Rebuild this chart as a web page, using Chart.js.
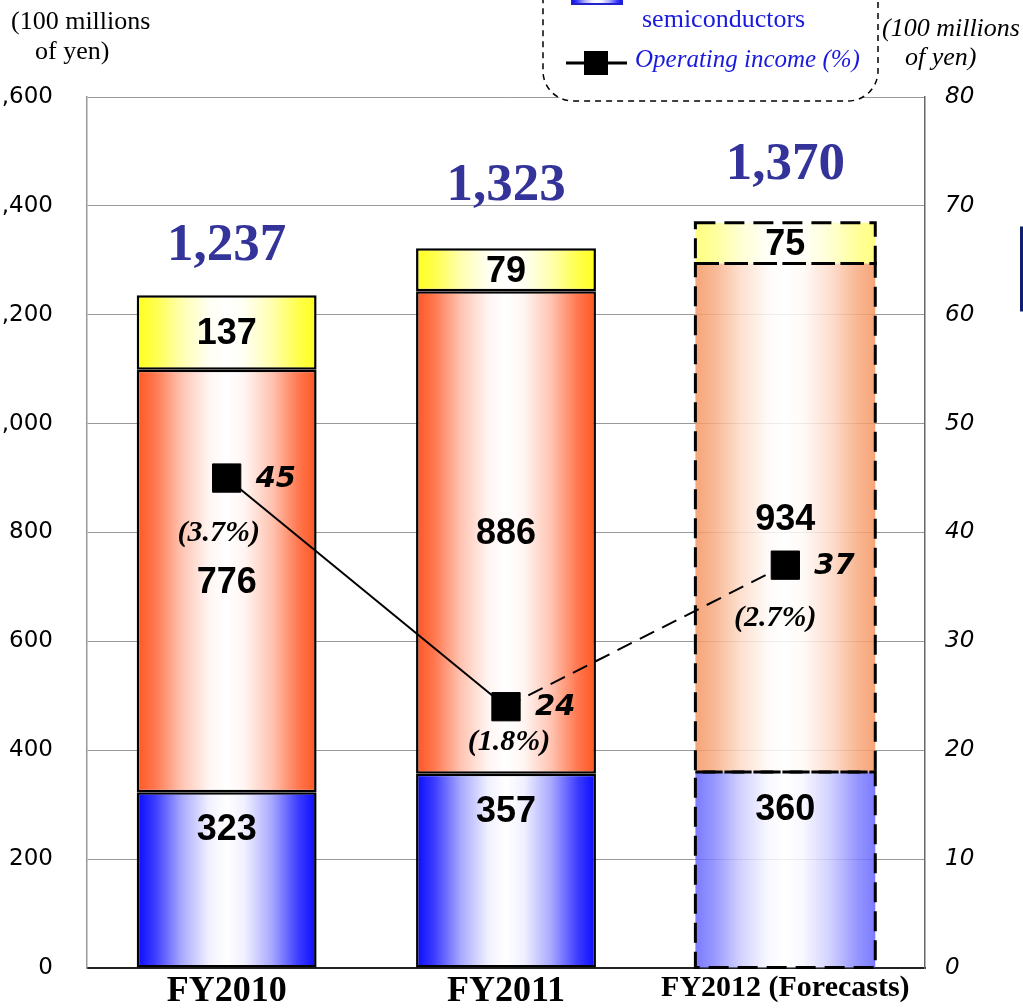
<!DOCTYPE html>
<html>
<head>
<meta charset="utf-8">
<script src="https://cdn.jsdelivr.net/npm/chart.js@4.4.1/dist/chart.umd.min.js"></script>
<style>
  html, body { margin: 0; padding: 0; background: #fff; overflow: hidden; width: 1023px; height: 1008px; }
  /* the canvas is shifted so the outer labels run off the page edge */
  #wrap { position: absolute; left: -40px; top: -60px; }
</style>
</head>
<body>
<div id="wrap"><canvas id="salesChart" width="1063" height="1068"></canvas></div>
<script>
// sales (100 millions of yen)
const fiscalYears = ['FY2010', 'FY2011', 'FY2012 (Forecasts)'];
const semiconductorSales = [323, 357, 360];
const middleSales = [776, 886, 934];
const topSales = [137, 79, 75];
const totalSales = [1237, 1323, 1370];
// operating income (100 millions of yen) and margin (%)
const operatingIncome = [45, 24, 37];
const operatingMargin = [3.7, 1.8, 2.7];
const salesTicks = [0, 200, 400, 600, 800, 1000, 1200, 1400, 1600];
const incomeTicks = [0, 10, 20, 30, 40, 50, 60, 70, 80];

const FORECAST = 2;
const BAR_PCT = 0.644;
const OFFSET_X = 40, OFFSET_Y = 60;   // canvas shift, see #wrap

// label placement
const totalLift = [35, 48, 43];
const marginShift = [[-8, 55], [3, 36], [-10, 53]];

const stops = [[0, 1], [0.1, 0.8], [0.25, 0.35], [0.4, 0.06], [0.5, 0], [0.6, 0.06], [0.75, 0.35], [0.9, 0.8], [1, 1]];

function tint(rgb, f, a) {
    const c = rgb.map(v => Math.round(255 - (255 - v) * f));
    return `rgba(${c.join(',')},${a})`;
}

function barFill(edge, forecastEdge) {
    return ctx => {
        const chart = ctx.chart;
        const xs = chart.scales.x;
        if (!xs || !chart.chartArea || ctx.dataIndex === undefined) return tint(edge, 0.5, 1);
        const forecast = ctx.dataIndex === FORECAST;
        const half = xs.width / fiscalYears.length * BAR_PCT / 2;
        const cx = xs.getPixelForValue(ctx.dataIndex);
        if (!isFinite(cx) || !isFinite(half) || half <= 0) return tint(edge, 0.5, 1);
        const g = chart.ctx.createLinearGradient(cx - half, 0, cx + half, 0);
        stops.forEach(([o, f]) => {
            g.addColorStop(o, tint(forecast ? forecastEdge : edge, f, forecast ? 0.85 : 1));
        });
        return g;
    };
}

function barDataset(label, data, edge, forecastEdge) {
    return {
        label: label,
        data: data,
        yAxisID: 'y',
        order: 1,
        backgroundColor: barFill(edge, forecastEdge),
        borderColor: '#000',
        borderWidth: ctx => ctx.dataIndex === FORECAST ? 0 : 2.5,
        borderSkipped: false,
        barPercentage: BAR_PCT,
        categoryPercentage: 1
    };
}

const annotations = {
    id: 'annotations',
    afterDatasetsDraw(chart) {
        const ctx = chart.ctx;
        const y = chart.scales.y;
        ctx.save();

        // dashed outline for the forecast column
        ctx.setLineDash([20, 9]);
        ctx.lineWidth = 3;
        ctx.strokeStyle = '#000';
        for (let d = 0; d < 3; d++) {
            const el = chart.getDatasetMeta(d).data[FORECAST];
            ctx.strokeRect(el.x - el.width / 2, el.y, el.width, el.base - el.y);
        }
        ctx.setLineDash([]);

        // segment values
        ctx.font = 'bold 36px "Liberation Sans"';
        ctx.fillStyle = '#000';
        ctx.textAlign = 'center';
        ctx.textBaseline = 'middle';
        for (let d = 0; d < 3; d++) {
            chart.getDatasetMeta(d).data.forEach((el, i) => {
                const v = chart.data.datasets[d].data[i];
                const ty = d === 0 ? el.y + 38 : (el.y + el.base) / 2 + 2;
                ctx.fillText(String(v), el.x, ty);
            });
        }

        // totals above the columns
        ctx.font = 'bold 53px "Liberation Serif"';
        ctx.fillStyle = '#333399';
        ctx.textBaseline = 'alphabetic';
        totalSales.forEach((t, i) => {
            const el = chart.getDatasetMeta(2).data[i];
            ctx.fillText(t.toLocaleString('en-US'), el.x, y.getPixelForValue(t) - totalLift[i]);
        });

        // operating income and margin next to the markers
        const pts = chart.getDatasetMeta(3).data;
        ctx.fillStyle = '#000';
        pts.forEach((p, i) => {
            ctx.font = 'italic bold 29px "DejaVu Sans"';
            ctx.textAlign = 'left';
            ctx.textBaseline = 'middle';
            ctx.fillText(String(operatingIncome[i]), p.x + 29, p.y + 1);
            ctx.font = 'italic bold 30px "Liberation Serif"';
            ctx.textAlign = 'center';
            ctx.fillText(`(${operatingMargin[i].toFixed(1)}%)`, p.x + marginShift[i][0], p.y + marginShift[i][1]);
        });
        ctx.restore();
    },
    afterDraw(chart) {
        const ctx = chart.ctx;
        ctx.save();
        ctx.translate(OFFSET_X, OFFSET_Y);

        // axis units
        ctx.fillStyle = '#000';
        ctx.textAlign = 'left';
        ctx.textBaseline = 'alphabetic';
        ctx.font = '26px "Liberation Serif"';
        ctx.fillText('(100 millions', 11, 29);
        ctx.fillText('of yen)', 35, 59);
        ctx.font = 'italic 26px "Liberation Serif"';
        ctx.fillText('(100 millions', 882, 36);
        ctx.fillText('of yen)', 905, 65);

        // legend box
        ctx.beginPath();
        ctx.roundRect(543, -80, 335, 181, 30);
        ctx.fillStyle = '#fff';
        ctx.fill();
        ctx.setLineDash([6, 5]);
        ctx.lineWidth = 1.5;
        ctx.strokeStyle = '#000';
        ctx.stroke();
        ctx.setLineDash([]);

        const sw = ctx.createLinearGradient(572, 0, 622, 0);
        stops.forEach(([o, f]) => sw.addColorStop(o, tint([10, 10, 255], f, 1)));
        ctx.fillStyle = sw;
        ctx.fillRect(572, -30, 50, 34);
        ctx.lineWidth = 2;
        ctx.strokeStyle = '#2222cc';
        ctx.strokeRect(572, -30, 50, 34);

        ctx.fillStyle = '#1a1adc';
        ctx.font = '26px "Liberation Serif"';
        ctx.fillText('semiconductors', 642, 27);
        ctx.font = 'italic 25px "Liberation Serif"';
        ctx.fillText('Operating income (%)', 635, 67);

        ctx.strokeStyle = '#000';
        ctx.lineWidth = 3;
        ctx.beginPath();
        ctx.moveTo(566, 63);
        ctx.lineTo(627, 63);
        ctx.stroke();
        ctx.fillStyle = '#000';
        ctx.fillRect(584, 51, 24, 24);

        // edge of the neighbouring panel
        ctx.strokeStyle = '#0d1f6e';
        ctx.lineWidth = 3;
        ctx.strokeRect(1021.5, 228, 60, 82);
        ctx.restore();
    }
};

new Chart(document.getElementById('salesChart'), {
    type: 'bar',
    data: {
        labels: fiscalYears,
        datasets: [
            barDataset('Semiconductors', semiconductorSales, [10, 10, 255], [100, 100, 255]),
            barDataset('Middle', middleSales, [255, 85, 34], [245, 149, 96]),
            barDataset('Top', topSales, [255, 255, 30], [255, 255, 106]),
            {
                type: 'line',
                label: 'Operating income',
                data: operatingIncome,
                yAxisID: 'y1',
                order: 0,
                borderColor: '#000',
                borderWidth: 2,
                pointStyle: 'rect',
                pointRadius: 20,
                pointHoverRadius: 20,
                pointBackgroundColor: '#000',
                pointBorderColor: '#000',
                pointBorderWidth: 1,
                segment: {
                    borderDash: ctx => ctx.p0DataIndex === 1 ? [16, 9] : undefined
                }
            }
        ]
    },
    options: {
        responsive: false,
        animation: false,
        devicePixelRatio: 1,
        layout: { padding: { top: 157, left: 0, right: 0, bottom: 0 } },
        plugins: {
            legend: { display: false },
            tooltip: { enabled: false }
        },
        scales: {
            x: {
                stacked: true,
                grid: { display: false, drawTicks: false },
                border: { color: '#222', width: 2 },
                ticks: {
                    color: '#000',
                    padding: 2,
                    maxRotation: 0,
                    font: ctx => ctx.index === FORECAST
                        ? { family: 'Liberation Serif', size: 30, weight: 'bold' }
                        : { family: 'Liberation Serif', size: 36, weight: 'bold' }
                },
                afterFit: s => { s.height = 40; }
            },
            y: {
                stacked: true,
                position: 'left',
                min: 0,
                max: 1600,
                afterBuildTicks: axis => { axis.ticks = salesTicks.map(v => ({ value: v })); },
                // invisible tick marks keep the labels clear of the axis
                grid: { color: '#999', lineWidth: 1, drawTicks: true, tickLength: 34, tickColor: 'rgba(0,0,0,0)' },
                border: { color: '#999', width: 1.5 },
                ticks: {
                    color: '#000',
                    padding: 0,
                    font: { family: 'DejaVu Sans', size: 23 }
                },
                afterFit: s => { s.width = 127; }
            },
            y1: {
                position: 'right',
                min: 0,
                max: 80,
                afterBuildTicks: axis => { axis.ticks = incomeTicks.map(v => ({ value: v })); },
                grid: { drawOnChartArea: false, drawTicks: true, tickLength: 20, tickColor: 'rgba(0,0,0,0)' },
                border: { color: '#666', width: 1.5 },
                ticks: {
                    color: '#000',
                    padding: 0,
                    font: { family: 'DejaVu Sans', size: 23, style: 'italic' }
                },
                afterFit: s => { s.width = 98; }
            }
        }
    },
    plugins: [annotations]
});
</script>
</body>
</html>
